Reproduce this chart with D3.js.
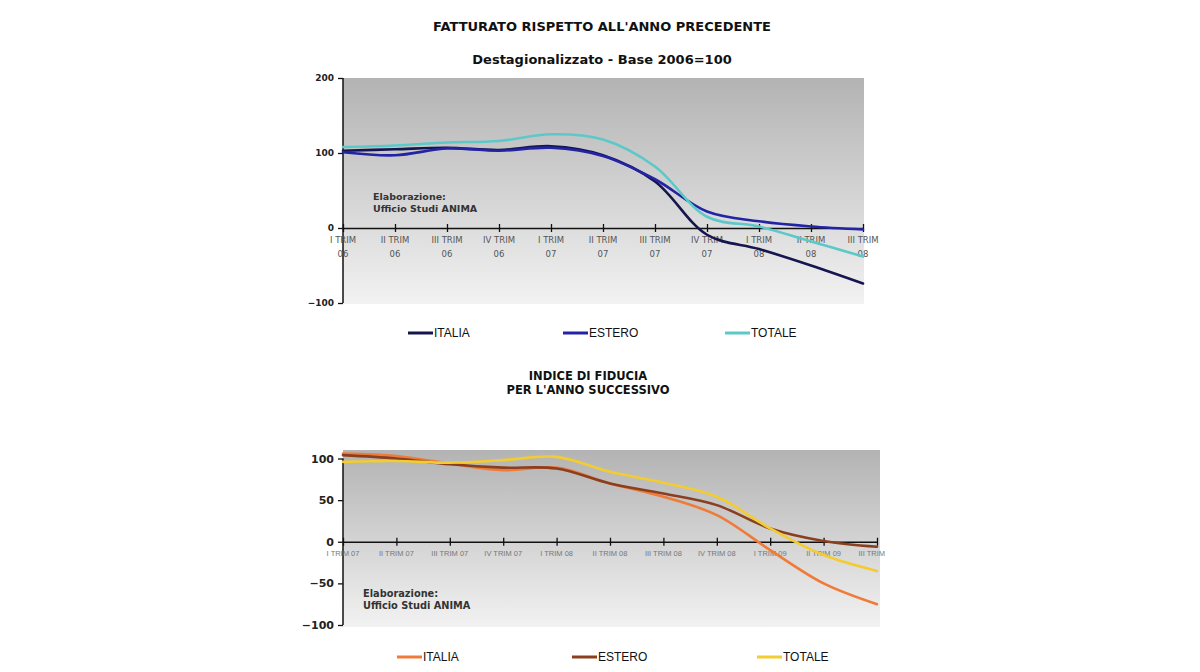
<!DOCTYPE html>
<html><head><meta charset="utf-8">
<script src="https://cdn.jsdelivr.net/npm/d3@7"></script>
<style>body{margin:0;background:#fff}svg{display:block}</style>
</head><body><svg id="c" width="1200" height="672"></svg>
<script>
// ---- data ----
const topCategories = ["I TRIM|06","II TRIM|06","III TRIM|06","IV TRIM|06","I TRIM|07","II TRIM|07","III TRIM|07","IV TRIM|07","I TRIM|08","II TRIM|08","III TRIM|08"];
const topItalia = [103, 105, 107, 104, 109, 97, 62, -9, -28, -50, -74];
const topEstero = [101, 97, 106, 103, 107, 96, 65, 22, 9, 2, -2];
const topTotale = [108, 110, 114, 116, 125, 118, 82, 15, 2, -18, -38];
const topYTicks = [-100, 0, 100, 200];

const botCategories = ["I TRIM 07","II TRIM 07","III TRIM 07","IV TRIM 07","I TRIM 08","II TRIM 08","III TRIM 08","IV TRIM 08","I TRIM 09","II TRIM 09","III TRIM 09"];
const botItalia = [106, 103, 94, 86, 89, 70, 54, 32, -10, -50, -75];
const botEstero = [104, 100, 93, 89, 88, 70, 58, 44, 16, 1, -6];
const botTotale = [96, 97, 95, 98, 102, 84, 71, 54, 16, -16, -35];
const botYTicks = [-100, -50, 0, 50, 100];

const seriesNames = ["ITALIA", "ESTERO", "TOTALE"];

// ---- drawing ----
const svg = d3.select("#c");
const defs = svg.append("defs");
const grad = defs.append("linearGradient").attr("id","bg").attr("x1",0).attr("y1",0).attr("x2",0).attr("y2",1);
grad.append("stop").attr("offset","0%").attr("stop-color","#b3b3b3");
grad.append("stop").attr("offset","100%").attr("stop-color","#f2f2f2");
defs.append("clipPath").attr("id","lblclip").append("rect").attr("x",0).attr("y",0).attr("width",886).attr("height",672);

const FONT = "DejaVu Sans, Verdana, sans-serif";

function title(t, x, y, size){
  svg.append("text").attr("x",x).attr("y",y).attr("text-anchor","middle")
    .attr("font-family",FONT).attr("font-weight","bold").attr("font-size",size).attr("fill","#111").text(t);
}
title("FATTURATO RISPETTO ALL'ANNO PRECEDENTE", 602, 31, 13);
title("Destagionalizzato - Base 2006=100", 602, 64, 13);
title("INDICE DI FIDUCIA", 588, 380, 11.5);
title("PER L'ANNO SUCCESSIVO", 588, 394, 11.5);

function chart(opt){
  const g = svg.append("g");
  const x = d3.scalePoint().domain(opt.cats).range([opt.x0, opt.x1]);
  const y = d3.scaleLinear().domain(opt.ydom).range([opt.yb, opt.yt]);
  g.append("rect").attr("x",opt.x0).attr("y",opt.bgTop).attr("width",opt.bgRight-opt.x0).attr("height",opt.bgBot-opt.bgTop).attr("fill","url(#bg)");
  // y axis
  const ya = g.append("g").attr("transform",`translate(${opt.x0},0)`)
    .call(d3.axisLeft(y).tickValues(opt.yticks).tickSize(5).tickSizeOuter(0).tickPadding(4));
  ya.select(".domain").attr("stroke","#111").attr("stroke-width",1.5).attr("d",`M0,${y(opt.ydom[0])}V${y(opt.ydom[1])}`);
  ya.selectAll(".tick line").attr("stroke","#111").attr("stroke-width",1.3);
  ya.selectAll(".tick text").attr("font-family",FONT).attr("font-weight","bold").attr("font-size",opt.yfs).attr("fill","#222");
  // x axis at zero
  const xa = g.append("g").attr("transform",`translate(0,${y(0)})`)
    .call(d3.axisBottom(x).tickSize(4).tickSizeOuter(0).tickFormat(""));
  xa.select(".domain").attr("stroke","#111").attr("stroke-width",1.5);
  xa.selectAll(".tick line").attr("stroke","#111").attr("stroke-width",1.3).attr("y1",-4);
  // x labels
  const lbl = g.append("g").attr("clip-path","url(#lblclip)");
  opt.cats.forEach(c=>{
    const parts = c.split("|");
    parts.forEach((p,i)=>{
      lbl.append("text").attr("x",x(c)).attr("y",y(0)+opt.lblDy+i*opt.lblLh).attr("text-anchor","middle")
        .attr("font-family",opt.lblFont).attr("font-size",opt.lblFs).attr("font-weight",opt.lblW).attr("fill",opt.lblCol).text(p);
    });
  });
  // annotation
  g.append("text").attr("x",opt.annX).attr("y",opt.annY).attr("font-family",FONT).attr("font-weight","bold").attr("font-size",opt.annFs).attr("fill","#333").text("Elaborazione:");
  g.append("text").attr("x",opt.annX).attr("y",opt.annY+12).attr("font-family",FONT).attr("font-weight","bold").attr("font-size",opt.annFs).attr("fill","#333").text("Ufficio Studi ANIMA");
  // lines
  const line = d3.line().x((d,i)=>x(opt.cats[i])).y(d=>y(d)).curve(d3.curveCatmullRom.alpha(0.5));
  opt.series.forEach((s,k)=>{
    g.append("path").datum(s).attr("d",line).attr("fill","none").attr("stroke",opt.colors[k]).attr("stroke-width",2.6).attr("stroke-linecap","round");
  });
  // legend
  seriesNames.forEach((n,k)=>{
    const lx = opt.legX[k];
    g.append("line").attr("x1",lx).attr("x2",lx+25).attr("y1",opt.legY).attr("y2",opt.legY).attr("stroke",opt.colors[k]).attr("stroke-width",3);
    g.append("text").attr("x",lx+26).attr("y",opt.legY+4).attr("font-family","Liberation Sans, Arial, sans-serif").attr("font-size",12).attr("fill","#111").text(n);
  });
}

chart({
  cats: topCategories, x0: 343, x1: 863, ydom: [-100, 200], yb: 303, yt: 78,
  bgTop: 78, bgBot: 304, bgRight: 864, yticks: topYTicks, yfs: 9,
  series: [topItalia, topEstero, topTotale], colors: ["#15154f", "#2323a6", "#5cc9c8"],
  lblDy: 15, lblLh: 14, lblFs: 8.5, lblW: "normal", lblFont: FONT, lblCol: "#555",
  annX: 373, annY: 200, annFs: 9.5, legX: [408, 563, 725], legY: 333
});
chart({
  cats: botCategories, x0: 343, x1: 877, ydom: [-100, 100], yb: 625, yt: 458.5,
  bgTop: 450, bgBot: 627, bgRight: 880, yticks: botYTicks, yfs: 11,
  series: [botItalia, botEstero, botTotale], colors: ["#f07b38", "#8a3f1e", "#f2cc30"],
  lblDy: 14, lblLh: 10, lblFs: 7.5, lblW: "normal", lblFont: "Liberation Sans, Arial, sans-serif", lblCol: "#777",
  annX: 363, annY: 597, annFs: 9.8, legX: [397, 572, 757], legY: 657
});
</script></body></html>
